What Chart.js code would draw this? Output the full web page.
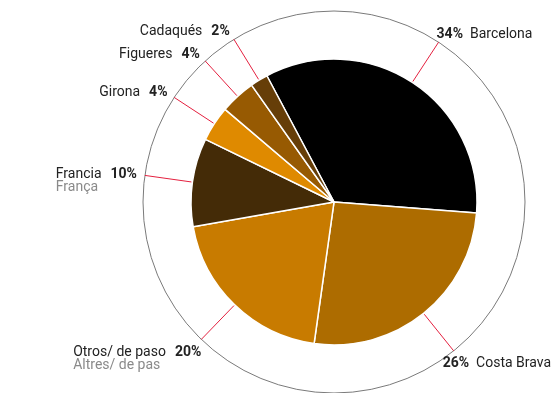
<!DOCTYPE html>
<html>
<head>
<meta charset="utf-8">
<script src="https://cdn.jsdelivr.net/npm/chart.js@4/dist/chart.umd.min.js"></script>
<style>
  html, body { margin: 0; padding: 0; background: #fff; }
  #wrap { width: 556px; height: 393px; position: relative; }
</style>
</head>
<body>
<div id="wrap"><canvas id="grafico"></canvas></div>
<script>
// Datos del gráfico
const categorias = ["Barcelona", "Costa Brava", "Otros/ de paso", "Francia", "Girona", "Figueres", "Cadaqués"];
const subtitulos = ["", "", "Altres/ de pas", "França", "", "", ""];
const porcentajes = [34, 26, 20, 10, 4, 4, 2];
const colores = ["#000000", "#ad6c00", "#c87b00", "#442b07", "#df8a00", "#975a02", "#663e08"];

const FONT = "Roboto, 'Liberation Sans', sans-serif";
const SIZE = 14;

// Plugin: círculo exterior, líneas guía y etiquetas
const etiquetas = {
  id: "etiquetas",
  afterDatasetsDraw(chart){
    const ctx = chart.ctx;
    const arcs = chart.getDatasetMeta(0).data;
    if (!arcs.length) return;
    const cx = arcs[0].x, cy = arcs[0].y, r = arcs[0].outerRadius;
    const rOut = r + 48;

    ctx.save();
    ctx.beginPath();
    ctx.arc(cx, cy, rOut, 0, Math.PI * 2);
    ctx.strokeStyle = "#7a7a7a";
    ctx.lineWidth = 1;
    ctx.stroke();

    arcs.forEach((arc, i) => {
      const a = (arc.startAngle + arc.endAngle) / 2;
      const ux = Math.cos(a), uy = Math.sin(a);
      const ex = cx + ux * rOut, ey = cy + uy * rOut;

      ctx.beginPath();
      ctx.moveTo(cx + ux * (r + 1), cy + uy * (r + 1));
      ctx.lineTo(ex, ey);
      ctx.strokeStyle = "#e4203f";
      ctx.lineWidth = 1;
      ctx.stroke();

      const izq = ex < cx;
      const abajo = ey > cy;
      const nombre = categorias[i];
      const pct = porcentajes[i] + "%";

      ctx.font = `${SIZE}px ${FONT}`;
      const wNombre = ctx.measureText(nombre).width;
      ctx.font = `bold ${SIZE}px ${FONT}`;
      const wPct = ctx.measureText(pct).width;
      const gap = izq ? 9 : 7;
      const total = wNombre + gap + wPct;

      let x, y;
      if (abajo){
        x = izq ? ex - total : ex - 11;
        y = ey + 13;
      } else {
        x = izq ? ex + ux * 8 - total : ex - 2;
        y = ey + uy * 9;
      }

      ctx.textBaseline = "middle";
      ctx.textAlign = "left";
      ctx.fillStyle = "#222";
      if (izq){
        ctx.font = `${SIZE}px ${FONT}`;
        ctx.fillText(nombre, x, y);
        ctx.font = `bold ${SIZE}px ${FONT}`;
        ctx.fillText(pct, x + wNombre + gap, y);
      } else {
        ctx.font = `bold ${SIZE}px ${FONT}`;
        ctx.fillText(pct, x, y);
        ctx.font = `${SIZE}px ${FONT}`;
        ctx.fillText(nombre, x + wPct + gap, y);
      }
      if (subtitulos[i]){
        ctx.font = `${SIZE}px ${FONT}`;
        ctx.fillStyle = "#8a8a8a";
        ctx.fillText(subtitulos[i], x, y + 13);
      }
    });
    ctx.restore();
  }
};

const ctx = document.getElementById("grafico").getContext("2d");
new Chart(ctx, {
  type: "pie",
  data: {
    labels: categorias,
    datasets: [{
      data: porcentajes,
      backgroundColor: colores,
      borderColor: "#ffffff",
      borderWidth: 1.5
    }]
  },
  options: {
    responsive: true,
    maintainAspectRatio: false,
    animation: false,
    rotation: -28,
    radius: 143,
    layout: { padding: { left: 122, right: 10, top: 16, bottom: 5 } },
    plugins: {
      legend: { display: false },
      tooltip: { enabled: false }
    }
  },
  plugins: [etiquetas]
});
</script>
</body>
</html>
